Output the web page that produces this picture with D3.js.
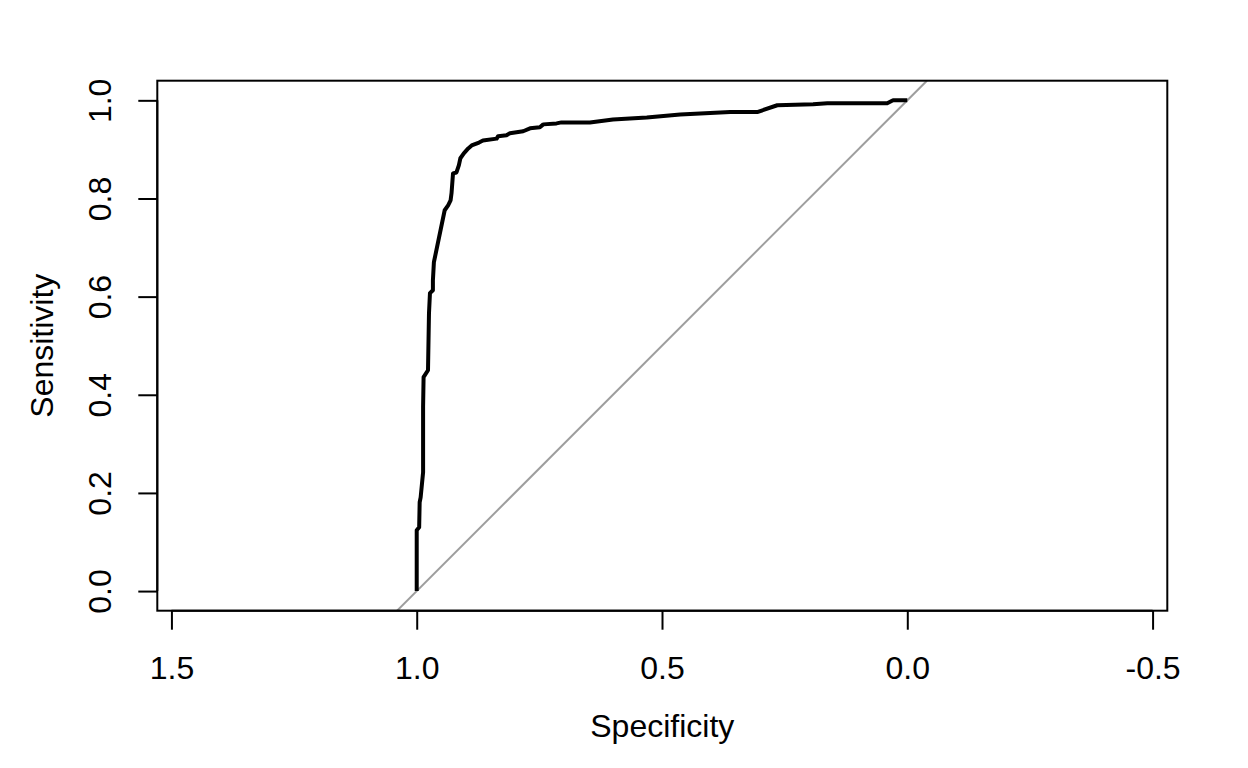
<!DOCTYPE html>
<html>
<head>
<meta charset="utf-8">
<script src="https://cdn.jsdelivr.net/npm/d3@7"></script>
<style>
  html, body { margin: 0; padding: 0; background: #fff; }
  svg { display: block; }
  text { font-family: "Liberation Sans", Arial, Helvetica, sans-serif; }
</style>
</head>
<body>
<svg id="chart" width="1248" height="768"></svg>
<script>
// ROC curve points
const specificity = [1.000, 1.000, 0.995, 0.994, 0.992, 0.987, 0.987, 0.986, 0.977, 0.975, 0.973, 0.967, 0.967, 0.965, 0.943, 0.936, 0.931, 0.929, 0.926, 0.919, 0.914, 0.911, 0.904, 0.895, 0.888, 0.873, 0.865, 0.837, 0.834, 0.817, 0.810, 0.783, 0.769, 0.749, 0.742, 0.715, 0.705, 0.647, 0.600, 0.531, 0.463, 0.361, 0.306, 0.265, 0.192, 0.163, 0.041, 0.029, 0.000];
const sensitivity = [0.000, 0.124, 0.130, 0.181, 0.191, 0.242, 0.375, 0.436, 0.450, 0.566, 0.607, 0.613, 0.633, 0.670, 0.776, 0.786, 0.796, 0.811, 0.851, 0.853, 0.868, 0.882, 0.892, 0.902, 0.908, 0.914, 0.918, 0.922, 0.927, 0.929, 0.933, 0.937, 0.943, 0.945, 0.951, 0.953, 0.955, 0.955, 0.961, 0.965, 0.971, 0.976, 0.976, 0.990, 0.992, 0.994, 0.994, 1.000, 1.000];
const xTicks = [1.5, 1.0, 0.5, 0.0, -0.5];
const yTicks = [0.0, 0.2, 0.4, 0.6, 0.8, 1.0];
const xTitle = "Specificity";
const yTitle = "Sensitivity";

const svg = d3.select("#chart");
const L = 157.3, R = 1167.3, T = 80.7, B = 610.7;
const FS = 32;
const fmt = d => d.toFixed(1);

const x = d3.scaleLinear().domain([1.5288, -0.530]).range([L, R]);
const y = d3.scaleLinear().domain([-0.04, 1.04]).range([B, T]);

svg.append("defs").append("clipPath").attr("id", "clip")
  .append("rect").attr("x", L).attr("y", T).attr("width", R - L).attr("height", B - T);

// identity diagonal
const diag = [[1.04, -0.04], [-0.04, 1.04]];
svg.append("line")
  .attr("clip-path", "url(#clip)")
  .attr("x1", x(diag[0][0])).attr("y1", y(diag[0][1]))
  .attr("x2", x(diag[1][0])).attr("y2", y(diag[1][1]))
  .attr("stroke", "#9e9e9e").attr("stroke-width", 2);

// ROC curve
const pts = specificity.map((s, i) => [s, sensitivity[i]]);
svg.append("path")
  .datum(pts)
  .attr("d", d3.line().x(d => x(d[0])).y(d => y(d[1])))
  .attr("fill", "none").attr("stroke", "#000").attr("stroke-width", 4)
  .attr("stroke-linejoin", "round");

// box
svg.append("rect").attr("x", L).attr("y", T).attr("width", R - L).attr("height", B - T)
  .attr("fill", "none").attr("stroke", "#000").attr("stroke-width", 2);

// x axis
const gx = svg.append("g").attr("transform", `translate(0,${B})`)
  .call(d3.axisBottom(x).tickValues(xTicks).tickFormat(fmt).tickSize(19).tickSizeOuter(0));
gx.select(".domain").remove();
gx.selectAll(".tick line").attr("stroke", "#000").attr("stroke-width", 2);
gx.selectAll(".tick text").attr("y", 68.3).attr("dy", null)
  .attr("fill", "#000").style("font-size", FS + "px").style("font-family", "Liberation Sans, Arial, sans-serif");
gx.append("line").attr("x1", x(xTicks[0])).attr("x2", x(xTicks[xTicks.length - 1]))
  .attr("stroke", "#000").attr("stroke-width", 2);

// y axis
const gy = svg.append("g").attr("transform", `translate(${L},0)`)
  .call(d3.axisLeft(y).tickValues(yTicks).tickFormat(fmt).tickSize(19).tickSizeOuter(0));
gy.select(".domain").remove();
gy.selectAll(".tick line").attr("stroke", "#000").attr("stroke-width", 2);
gy.selectAll(".tick text").attr("x", null).attr("y", null).attr("dy", null)
  .attr("text-anchor", "middle")
  .attr("transform", "translate(-46.6,0) rotate(-90)")
  .attr("fill", "#000").style("font-size", FS + "px").style("font-family", "Liberation Sans, Arial, sans-serif");
gy.append("line").attr("y1", y(yTicks[0])).attr("y2", y(yTicks[yTicks.length - 1]))
  .attr("stroke", "#000").attr("stroke-width", 2);

// titles
svg.append("text").attr("x", (L + R) / 2).attr("y", 736.7)
  .attr("text-anchor", "middle").style("font-size", FS + "px").text(xTitle);
svg.append("text").attr("transform", `translate(53.3,${(T + B) / 2}) rotate(-90)`)
  .attr("text-anchor", "middle").style("font-size", FS + "px").text(yTitle);
</script>
</body>
</html>
